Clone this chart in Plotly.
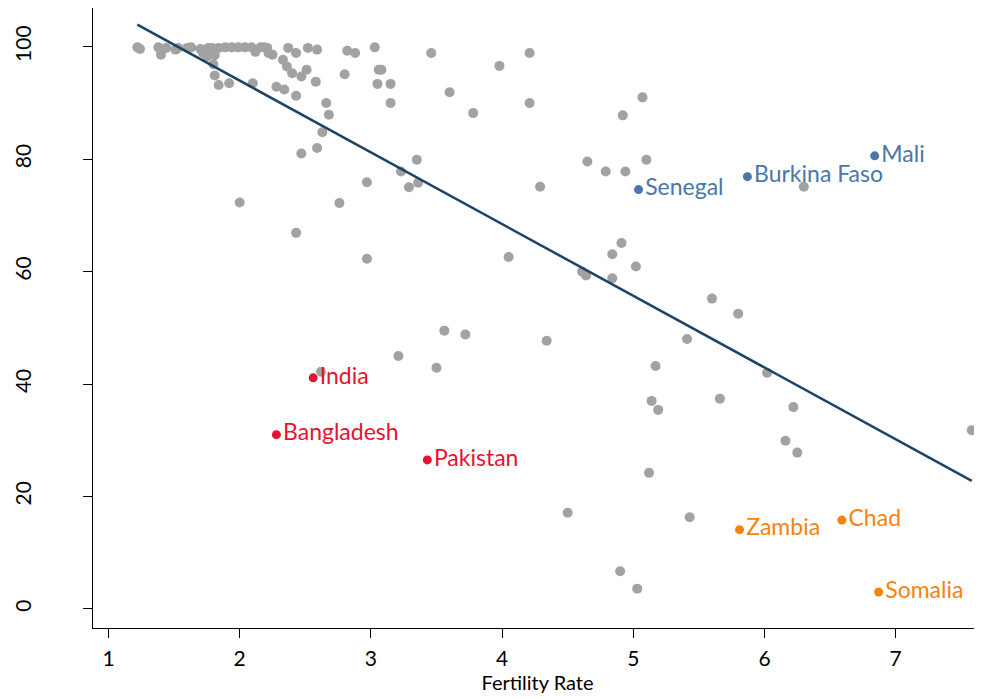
import plotly.graph_objects as go

# Gray (other countries): fertility rate vs value
other_fert = [1.22, 1.24, 1.38, 1.40, 1.44, 1.51, 1.53, 1.60, 1.63, 1.70,
              1.72, 1.75, 1.76, 1.79, 1.81, 1.80, 1.81, 1.84, 1.92, 1.84,
              1.89, 1.94, 1.99, 2.04, 2.09, 2.12, 2.16, 2.21, 2.25, 2.33,
              2.10, 2.28, 2.19, 2.22, 2.37, 2.43, 2.36, 2.40, 2.47, 2.51,
              2.52, 2.59, 2.82, 2.88, 3.03, 2.58, 2.80, 3.06, 3.08, 3.05,
              3.15, 3.15, 2.34, 2.43, 2.66, 2.68, 2.63, 2.59, 2.47, 2.97,
              2.00, 2.76, 2.43, 3.46, 3.98, 4.21, 3.60, 3.78, 4.21, 3.35,
              3.23, 3.29, 3.36, 5.07, 4.92, 4.65, 4.79, 4.94, 5.10, 4.29,
              4.91, 4.84, 4.05, 2.97, 4.61, 4.64, 4.84, 5.02, 5.60, 5.80,
              5.41, 3.56, 3.72, 4.34, 3.21, 3.50, 2.62, 5.17, 6.02, 5.14,
              5.19, 5.66, 6.22, 7.58, 6.16, 6.25, 5.12, 4.50, 5.43, 4.90,
              5.03, 6.30]
other_val = [99.9, 99.6, 99.9, 98.6, 99.8, 99.5, 99.8, 99.8, 99.9, 99.6,
             98.9, 98.3, 99.8, 99.8, 98.5, 96.9, 94.9, 93.2, 93.5, 99.8,
             99.9, 99.9, 99.9, 99.9, 99.9, 99.1, 99.9, 99.8, 98.6, 97.7,
             93.5, 92.9, 99.9, 98.9, 99.8, 98.9, 96.5, 95.3, 94.7, 95.9,
             99.8, 99.5, 99.3, 98.9, 99.9, 93.8, 95.1, 95.9, 95.9, 93.4,
             93.4, 90.0, 92.4, 91.3, 90.0, 87.9, 84.8, 82.0, 81.0, 75.9,
             72.3, 72.2, 66.9, 98.9, 96.6, 98.9, 91.9, 88.2, 90.0, 79.9,
             77.8, 75.0, 75.8, 91.0, 87.8, 79.6, 77.8, 77.8, 79.9, 75.1,
             65.1, 63.1, 62.6, 62.3, 60.0, 59.3, 58.8, 60.9, 55.2, 52.5,
             48.0, 49.5, 48.8, 47.7, 45.0, 42.9, 42.2, 43.2, 42.0, 37.0,
             35.4, 37.4, 35.9, 31.8, 29.9, 27.8, 24.2, 17.1, 16.3, 6.7,
             3.6, 75.1]

# Highlighted groups
blue_names = ["Mali", "Burkina Faso", "Senegal"]
blue_fert = [6.84, 5.87, 5.04]
blue_val = [80.6, 76.9, 74.6]

red_names = ["India", "Bangladesh", "Pakistan"]
red_fert = [2.56, 2.28, 3.43]
red_val = [41.1, 31.0, 26.5]

orange_names = ["Zambia", "Chad", "Somalia"]
orange_fert = [5.81, 6.59, 6.87]
orange_val = [14.1, 15.8, 3.0]

# Fitted line
fit_intercept = 119.5
fit_slope = -12.76

FONT = "Lato"

all_x = other_fert + blue_fert + red_fert + orange_fert
line_x = [min(all_x), max(all_x)]
line_y = [fit_intercept + fit_slope * v for v in line_x]

fig = go.Figure()
fig.add_trace(go.Scatter(x=other_fert, y=other_val, mode="markers",
                         marker=dict(color="#a2a2a2", size=10), hoverinfo="skip"))
fig.add_trace(go.Scatter(x=line_x, y=line_y, mode="lines",
                         line=dict(color="#1b4469", width=2.5)))
for names, xs, ys, col in [(blue_names, blue_fert, blue_val, "#4a76a8"),
                           (red_names, red_fert, red_val, "#e6122f"),
                           (orange_names, orange_fert, orange_val, "#f8820f")]:
    fig.add_trace(go.Scatter(x=xs, y=ys, mode="markers+text", text=names,
                             textposition="middle right",
                             textfont=dict(color=col, size=23, family=FONT),
                             marker=dict(color=col, size=9)))

fig.update_layout(
    width=982, height=698,
    margin=dict(l=85, r=8, t=0, b=78),
    plot_bgcolor="white", paper_bgcolor="white",
    showlegend=False,
    font=dict(family=FONT, color="black", size=20),
)
fig.update_xaxes(range=[0.882, 7.658], tickvals=[1, 2, 3, 4, 5, 6, 7],
                 showgrid=False, zeroline=False, showline=True, linecolor="black",
                 linewidth=1.2, ticks="outside", ticklen=9, tickcolor="black",
                 automargin=False, ticklabelstandoff=3,
                 tickfont=dict(size=21),
                 title=dict(text="Fertility Rate", font=dict(size=20), standoff=5))
fig.update_yaxes(range=[-3.4, 106.9], tickvals=[0, 20, 40, 60, 80, 100],
                 showgrid=False, zeroline=False, showline=True, linecolor="black",
                 linewidth=1.2, ticks="outside", ticklen=9, tickcolor="black",
                 automargin=False, ticklabelstandoff=44,
                 tickangle=-90, tickfont=dict(size=21))

fig.write_html("out.html")
